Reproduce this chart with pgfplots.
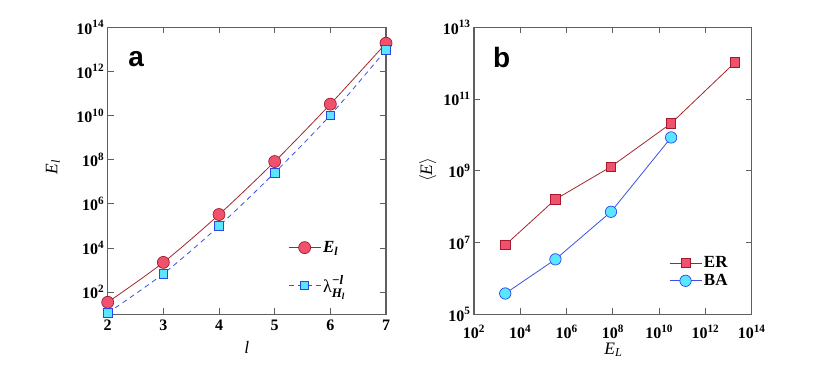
\documentclass[border=0pt]{standalone}
\usepackage{pgfplots}
\pgfplotsset{compat=1.18}
\usepackage{fontspec}
\setmainfont{Liberation Serif}
\newfontfamily\arialf{Liberation Sans}
\definecolor{redfill}{RGB}{240,82,110}
\definecolor{rededge}{RGB}{165,25,45}
\definecolor{redline}{RGB}{160,40,45}
\definecolor{cyanfill}{RGB}{90,230,255}
\definecolor{blueedge}{RGB}{40,70,235}
\definecolor{blueline}{RGB}{60,80,225}
\definecolor{framec}{RGB}{95,95,95}
\pgfplotsset{
  myaxis/.style={
    scale only axis, height=287pt,
    axis line style={framec, line width=1.1pt},
    every tick/.style={framec, line width=0.9pt},
    major tick length=6pt,
    xminorticks=false, yminorticks=false,
    log basis x=10, log basis y=10,
    ticklabel style={font=\fontsize{16}{19}\selectfont\bfseries},
    label style={font=\fontsize{17.5}{20}\selectfont},
    /pgf/number format/assume math mode=true,
    legend cell align=left,
    legend image code/.code={
      \draw[mark repeat=2,mark phase=2,##1] plot coordinates {(0pt,0pt)(16pt,0pt)(32pt,0pt)};
    },
  }
}
\begin{document}
\begin{tikzpicture}[x=1pt,y=1pt]
\path[use as bounding box] (0,0) rectangle (830,367);
% Panel a
\begin{axis}[myaxis,
  at={(107.7pt,52.7pt)}, anchor=south west, width=278.3pt,
  xticklabel style={yshift=-2pt},
  ymode=log, xmin=2, xmax=7, ymin=10, ymax=1e14,
  xtick={2,3,4,5,6,7},
  ytick={1e2,1e4,1e6,1e8,1e10,1e12,1e14},
  yticklabels={10\textsuperscript{2},10\textsuperscript{4},10\textsuperscript{6},10\textsuperscript{8},10\textsuperscript{10},10\textsuperscript{12},10\textsuperscript{14}},
  xlabel={\textit{l}}, ylabel={\textit{E}\textsubscript{\textit{l}}},
  xlabel style={at={(axis description cs:0.5,-0.114)}, anchor=center},
  ylabel style={at={(axis description cs:-0.197,0.514)}, anchor=center},
  legend style={at={(rel axis cs:0.648,0.262)}, anchor=north west, draw=none, fill=none,
    font=\fontsize{17}{20}\selectfont, row sep=18pt, inner sep=0pt},
]
\addplot[redline, line width=0.8pt, smooth, mark=*, mark size=6pt,
  mark options={fill=redfill, draw=rededge, line width=0.7pt, solid}]
  coordinates {(2,35) (3,2240) (4,3.3e5) (5,8.3e7) (6,3.3e10) (7,1.9e13)};
\addlegendentry{\textbf{\textit{E}\textsubscript{\textit{l}}}}
\addplot[blueline, line width=0.8pt, smooth, dash pattern=on 5pt off 4pt, mark=square*, mark size=4.2pt,
  mark options={fill=cyanfill, draw=blueedge, line width=0.7pt, solid}]
  coordinates {(2,11.5) (3,690) (4,1e5) (5,2.6e7) (6,1.05e10) (7,9.4e12)};
\addlegendentry{$\mbox{\fontsize{18}{20}\selectfont λ}^{\mbox{\fontsize{13}{14}\selectfont\bfseries\itshape −l}}_{\mbox{\fontsize{13}{14}\selectfont\bfseries\itshape H\textsubscript{l}}}$}
\node[font=\arialf\fontsize{28}{30}\selectfont\bfseries] at (axis description cs:0.102,0.889) {a};
\end{axis}
% Panel b
\begin{axis}[myaxis,
  at={(474pt,52.7pt)}, anchor=south west, width=277.7pt,
  xticklabel style={yshift=-7pt},
  xmode=log, ymode=log, xmin=1e2, xmax=1e14, ymin=1e5, ymax=1e13,
  xtick={1e2,1e4,1e6,1e8,1e10,1e12,1e14},
  xticklabels={10\textsuperscript{2},10\textsuperscript{4},10\textsuperscript{6},10\textsuperscript{8},10\textsuperscript{10},10\textsuperscript{12},10\textsuperscript{14}},
  ytick={1e5,1e7,1e9,1e11,1e13},
  yticklabels={10\textsuperscript{5},10\textsuperscript{7},10\textsuperscript{9},10\textsuperscript{11},10\textsuperscript{13}},
  xlabel={\textit{E}\textsubscript{\textit{L}}}, ylabel={$\langle$\textit{E}$\rangle$},
  xlabel style={at={(axis description cs:0.502,-0.124)}, anchor=center},
  ylabel style={at={(axis description cs:-0.166,0.503)}, anchor=center},
  legend style={at={(rel axis cs:0.702,0.208)}, anchor=north west, draw=none, fill=none,
    font=\fontsize{17}{20}\selectfont\bfseries, row sep=1pt, inner sep=0pt},
]
\addplot[redline, line width=0.8pt, mark=square*, mark size=4.7pt,
  mark options={fill=redfill, draw=rededge, line width=0.7pt}]
  coordinates {(2240,8.5e6) (3.3e5,1.6e8) (8.3e7,1.3e9) (3.3e10,2.1e10) (1.9e13,1.05e12)};
\addlegendentry{ER}
\addplot[blueline, line width=0.8pt, mark=*, mark size=5.7pt,
  mark options={fill=cyanfill, draw=blueedge, line width=0.7pt}]
  coordinates {(2240,3.8e5) (3.3e5,3.4e6) (8.3e7,7.2e7) (3.3e10,8.5e9)};
\addlegendentry{BA}
\node[font=\arialf\fontsize{28}{30}\selectfont\bfseries] at (axis description cs:0.0997,0.895) {b};
\end{axis}
\end{tikzpicture}
\end{document}
